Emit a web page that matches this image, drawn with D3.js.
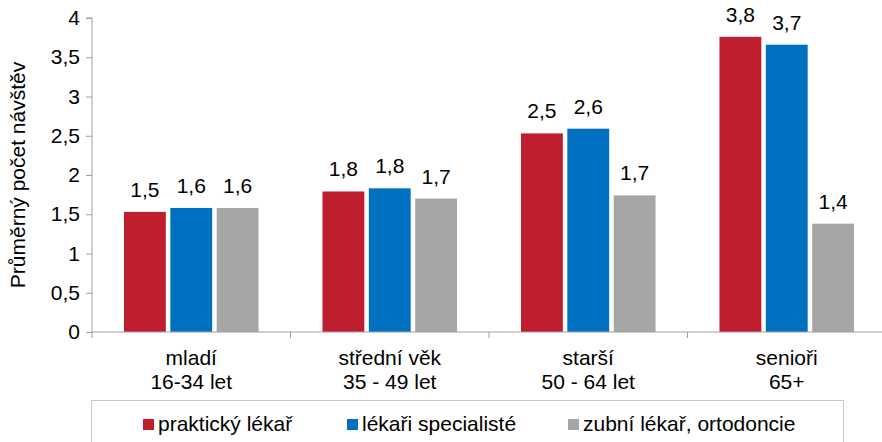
<!DOCTYPE html>
<html>
<head>
<meta charset="utf-8">
<script src="https://cdn.jsdelivr.net/npm/d3@7"></script>
<style>
  body { margin: 0; background: #fff; }
  svg { font-family: "Liberation Sans", Arial, sans-serif; }
</style>
</head>
<body>
<div id="chart"></div>
<script>
const categories = [["mladí", "16-34 let"], ["střední věk", "35 - 49 let"], ["starší", "50 - 64 let"], ["senioři", "65+"]]
const seriesNames = ["praktický lékař", "lékaři specialisté", "zubní lékař, ortodoncie"]
const praktik = [1.53, 1.79, 2.53, 3.76]
const specialista = [1.58, 1.83, 2.59, 3.66]
const zubni = [1.58, 1.70, 1.74, 1.38]
const yTicks = [0, 0.5, 1, 1.5, 2, 2.5, 3, 3.5, 4]
const colors = ["#BE1E2D", "#0070C0", "#A6A6A6"]

const width = 882, height = 442
const margin = {top: 18, right: -4, bottom: 110, left: 92}
const fontSize = 21
const series = [praktik, specialista, zubni]
const fmt = v => d3.format(".1f")(v).replace(".", ",")

const svg = d3.select("#chart").append("svg")
  .attr("width", width).attr("height", height)

const x = d3.scaleBand()
  .domain(categories.map((d, i) => i))
  .range([margin.left, width - margin.right])

const xInner = d3.scaleBand()
  .domain(seriesNames)
  .range([0, x.bandwidth()])
  .paddingInner(0.097)
  .paddingOuter(0.69)

const y = d3.scaleLinear()
  .domain([0, 4])
  .range([height - margin.bottom, margin.top])

// y axis
const yAxis = svg.append("g")
  .attr("transform", `translate(${margin.left},0)`)
  .call(d3.axisLeft(y).tickValues(yTicks).tickSize(6).tickPadding(6).tickFormat(d => String(d).replace(".", ",")))
  .attr("font-family", null)
  .attr("font-size", null)
yAxis.selectAll("text").attr("font-size", fontSize).attr("fill", "#000")
yAxis.selectAll("line").attr("stroke", "#a0a0a0")
yAxis.select(".domain").attr("stroke", "#a0a0a0").attr("d", `M-6,${y(4)}H0V${y(0)}`)

svg.append("text")
  .attr("transform", `translate(25,${(y(0) + y(4)) / 2}) rotate(-90)`)
  .attr("text-anchor", "middle")
  .attr("font-size", fontSize)
  .text("Průměrný počet návštěv")

// bars
const groups = svg.append("g").selectAll("g")
  .data(categories.map((c, i) => i))
  .join("g")
  .attr("transform", i => `translate(${x(i)},0)`)

seriesNames.forEach((name, s) => {
  groups.append("rect")
    .attr("x", xInner(name))
    .attr("width", xInner.bandwidth())
    .attr("y", i => y(series[s][i]))
    .attr("height", i => y(0) - y(series[s][i]))
    .attr("fill", colors[s])
  groups.append("text")
    .attr("x", xInner(name) + xInner.bandwidth() / 2)
    .attr("y", i => y(series[s][i]) - 15)
    .attr("text-anchor", "middle")
    .attr("font-size", fontSize)
    .text(i => fmt(series[s][i]))
})

// x axis
const x0 = y(0)
svg.append("line")
  .attr("x1", margin.left).attr("x2", width)
  .attr("y1", x0).attr("y2", x0)
  .attr("stroke", "#a0a0a0")
svg.append("g").selectAll("line")
  .data(categories.map((c, i) => i))
  .join("line")
  .attr("x1", i => x(i)).attr("x2", i => x(i))
  .attr("y1", x0).attr("y2", x0 + 6)
  .attr("stroke", "#a0a0a0")

const catLabels = svg.append("g").selectAll("text")
  .data(categories)
  .join("text")
  .attr("text-anchor", "middle")
  .attr("font-size", fontSize)
  .attr("x", (d, i) => x(i) + x.bandwidth() / 2)
  .attr("y", 365)
catLabels.append("tspan").attr("x", (d, i) => x(i) + x.bandwidth() / 2).text(d => d[0])
catLabels.append("tspan").attr("x", (d, i) => x(i) + x.bandwidth() / 2).attr("dy", 24).text(d => d[1])

// legend
svg.append("rect")
  .attr("x", 91.5).attr("y", 400.5)
  .attr("width", 752).attr("height", 60)
  .attr("fill", "none")
  .attr("stroke", "#c8c8c8")

const legendX = [143, 347, 568]
const legend = svg.append("g").selectAll("g")
  .data(seriesNames)
  .join("g")
  .attr("transform", (d, i) => `translate(${legendX[i]},419)`)
legend.append("rect")
  .attr("width", 11).attr("height", 11)
  .attr("fill", (d, i) => colors[i])
legend.append("text")
  .attr("x", 15).attr("y", 12)
  .attr("font-size", fontSize)
  .text(d => d)
</script>
</body>
</html>
